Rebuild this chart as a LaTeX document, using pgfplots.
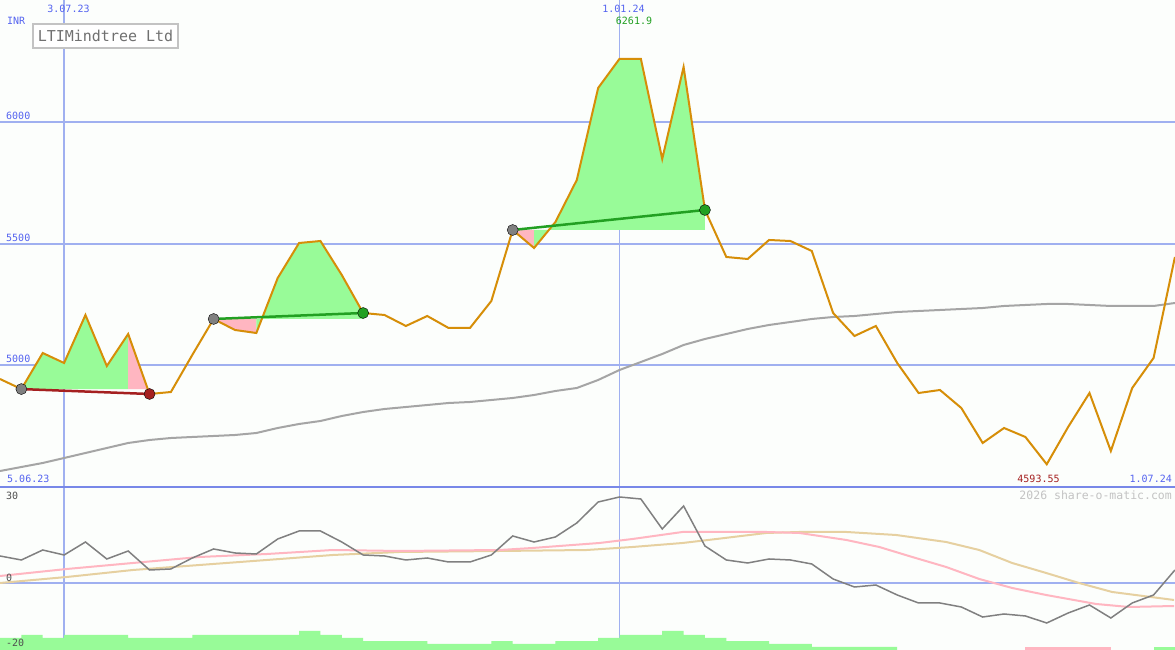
\documentclass[border=0pt]{standalone}
\usepackage{pgfplots}
\pgfplotsset{compat=1.18}
\usepackage{fontspec}
\setmonofont{DejaVu Sans Mono}
\definecolor{bgc}{RGB}{252,254,252}
\definecolor{gridb}{RGB}{160,176,240}
\definecolor{sepb}{RGB}{120,136,232}
\definecolor{txtb}{RGB}{85,100,240}
\definecolor{pricec}{RGB}{214,142,8}
\definecolor{mac}{RGB}{165,165,165}
\definecolor{pgreen}{RGB}{152,251,152}
\definecolor{ppink}{RGB}{255,182,193}
\definecolor{tgreen}{RGB}{34,160,34}
\definecolor{tred}{RGB}{165,32,32}
\definecolor{dotg}{RGB}{128,128,128}
\definecolor{oscc}{RGB}{128,128,128}
\definecolor{tanc}{RGB}{230,208,160}
\definecolor{boxg}{RGB}{195,195,195}
\definecolor{titleg}{RGB}{112,112,112}
\definecolor{lowtxt}{RGB}{80,80,80}
\begin{document}
\begin{tikzpicture}[x=1pt,y=1pt]
\useasboundingbox (0,0) rectangle (1175,650);
\fill[bgc] (0,0) rectangle (1175,650);
% ---------------- main panel ----------------
\begin{axis}[at={(0,163pt)}, anchor=south west, scale only axis,
  width=1175pt, height=487pt,
  xmin=0, xmax=55, ymin=4500, ymax=6504.1,
  axis line style={draw=none}, major tick length=0pt,
  xtick={3}, ytick={5000,5500,6000},
  extra x ticks={29}, extra x tick labels={},
  extra x tick style={grid style={draw=gridb, line width=1pt}},
  xticklabels={}, yticklabels={},
  grid=major, grid style={draw=gridb, line width=2pt},
  clip=true]
% fills
\addplot[fill=pgreen, draw=none] coordinates {(1,4903)(2,5051.4)(3,5010.3)(4,5207.8)(5,4997.9)(6,5129.6)(6,4903)(1,4903)} -- cycle;
\addplot[fill=ppink, draw=none] coordinates {(6,5129.6)(7,4882.7)(7,4903)(6,4903)} -- cycle;
\addplot[fill=ppink, draw=none] coordinates {(10,5191.4)(11,5146.1)(12,5133.7)(12,5191.4)(10,5191.4)} -- cycle;
\addplot[fill=pgreen, draw=none] coordinates {(12,5133.7)(13,5360.1)(14,5504.1)(15,5512.3)(16,5372.4)(17,5216.0)(17,5191.4)(12,5191.4)} -- cycle;
\addplot[fill=ppink, draw=none] coordinates {(24,5557.6)(25,5483.5)(25,5557.6)} -- cycle;
\addplot[fill=pgreen, draw=none] coordinates {(25,5483.5)(26,5590.5)(27,5763.4)(28,6142.0)(29,6261.9)(30,6261.9)(31,5849.8)(32,6228.4)(33,5639.9)(33,5557.6)(25,5557.6)} -- cycle;
% long moving average
\addplot[draw=mac, line width=2pt] coordinates {
(0,4565.8)(1,4582.3)(2,4598.8)(3,4619.3)(4,4639.9)(5,4660.5)(6,4681.1)(7,4693.4)(8,4701.6)(9,4705.8)
(10,4709.9)(11,4714.0)(12,4722.2)(13,4742.8)(14,4759.3)(15,4771.6)(16,4792.2)(17,4808.6)(18,4821.0)(19,4829.2)
(20,4837.4)(21,4845.7)(22,4849.8)(23,4858.0)(24,4866.3)(25,4878.6)(26,4895.1)(27,4907.4)(28,4940.3)(29,4981.5)
(30,5014.4)(31,5047.3)(32,5084.4)(33,5109.1)(34,5129.6)(35,5150.2)(36,5166.7)(37,5179.0)(38,5191.4)(39,5199.6)
(40,5203.7)(41,5211.9)(42,5220.2)(43,5224.3)(44,5228.4)(45,5232.5)(46,5236.6)(47,5244.9)(48,5249.0)(49,5253.1)
(50,5253.1)(51,5249.0)(52,5244.9)(53,5244.9)(54,5244.9)(55,5257.2)};
% price
\addplot[draw=pricec, line width=2pt] coordinates {
(0,4944.4)(1,4903)(2,5051.4)(3,5010.3)(4,5207.8)(5,4997.9)(6,5129.6)(7,4882.7)(8,4890.9)(9,5043.2)
(10,5191.4)(11,5146.1)(12,5133.7)(13,5360.1)(14,5504.1)(15,5512.3)(16,5372.4)(17,5216.0)(18,5207.8)(19,5162.6)
(20,5203.7)(21,5154.3)(22,5154.3)(23,5265.4)(24,5557.6)(25,5483.5)(26,5590.5)(27,5763.4)(28,6142.0)(29,6261.9)
(30,6261.9)(31,5849.8)(32,6228.4)(33,5639.9)(34,5446.5)(35,5438.3)(36,5516.5)(37,5512.3)(38,5471.2)(39,5216.0)
(40,5121.4)(41,5162.6)(42,5010.3)(43,4886.8)(44,4899.2)(45,4825.1)(46,4681.1)(47,4742.8)(48,4705.8)(49,4593.55)
(50,4746.9)(51,4886.8)(52,4648.1)(53,4907.4)(54,5030.9)(55,5446.5)};
% trend lines
\addplot[draw=tred, line width=2.5pt] coordinates {(1,4903)(7,4882.7)};
\addplot[draw=tgreen, line width=2.5pt] coordinates {(10,5191.4)(17,5216.0)};
\addplot[draw=tgreen, line width=2.5pt] coordinates {(24,5557.6)(33,5639.9)};
% dots
\addplot[only marks, mark=*, mark size=5.5pt, mark options={fill=dotg, draw=none}] coordinates {(1,4903)(10,5191.4)(24,5557.6)};
\addplot[only marks, mark=*, mark size=5.5pt, mark options={fill=tred, draw=none}] coordinates {(7,4882.7)};
\addplot[only marks, mark=*, mark size=5.5pt, mark options={fill=tgreen, draw=none}] coordinates {(17,5216.0)(33,5639.9)};
\end{axis}
% ---------------- lower panel ----------------
\begin{axis}[at={(0,0)}, anchor=south west, scale only axis,
  width=1175pt, height=163pt,
  xmin=0, xmax=55, ymin=-20.94, ymax=30,
  axis line style={draw=none}, major tick length=0pt,
  xtick={3}, ytick={0},
  extra x ticks={29}, extra x tick labels={},
  extra x tick style={grid style={draw=gridb, line width=1pt}},
  xticklabels={}, yticklabels={},
  grid=major, grid style={draw=gridb, line width=2pt},
  clip=true]
\addplot[fill=pgreen, draw=none] coordinates {
(0,-21)(0,-17.19)(1,-17.19)(1,-16.25)(2,-16.25)(2,-17.19)(3,-17.19)(3,-16.25)(6,-16.25)(6,-17.19)
(9,-17.19)(9,-16.25)(14,-16.25)(14,-15)(15,-15)(15,-16.25)(16,-16.25)(16,-17.19)(17,-17.19)(17,-18.13)
(20,-18.13)(20,-19.06)(23,-19.06)(23,-18.13)(24,-18.13)(24,-19.06)(26,-19.06)(26,-18.13)(28,-18.13)(28,-17.19)
(29,-17.19)(29,-16.25)(31,-16.25)(31,-15)(32,-15)(32,-16.25)(33,-16.25)(33,-17.19)(34,-17.19)(34,-18.13)
(36,-18.13)(36,-19.06)(38,-19.06)(38,-20)(42,-20)(42,-21)} -- cycle;
\addplot[fill=ppink, draw=none] coordinates {(48,-21)(48,-20)(52,-20)(52,-21)} -- cycle;
\addplot[fill=pgreen, draw=none] coordinates {(54,-21)(54,-20)(55,-20)(55,-21)} -- cycle;
% tan
\addplot[draw=tanc, line width=2pt] coordinates {
(0,0)(3.13,1.88)(6.22,4.06)(9.35,5.63)(12.49,7.19)(15.58,8.75)(18.71,9.69)(23.39,10.0)(27.46,10.31)
(29.61,11.25)(31.95,12.5)(33.54,13.75)(35.87,15.63)(37.42,15.94)(39.62,15.94)(41.95,15.0)(44.29,12.81)
(45.84,10.31)(47.38,6.25)(48.97,3.13)(50.51,0)(52.06,-2.81)(54.96,-5.31)};
% pink
\addplot[draw=ppink, line width=2pt] coordinates {
(0,2.19)(3.13,4.38)(6.22,6.25)(9.35,8.13)(12.49,9.06)(15.58,10.31)(18.71,10.0)(23.39,10.31)(24.93,10.94)
(28.06,12.5)(29.61,13.75)(31.95,15.94)(33.54,15.94)(35.87,15.94)(37.42,15.63)(39.62,13.44)(41.16,11.25)
(42.70,8.13)(44.29,5.0)(45.84,1.25)(47.38,-1.56)(48.97,-3.75)(51.31,-6.56)(52.85,-7.5)(54.96,-7.19)};
% oscillator
\addplot[draw=oscc, line width=1.5pt] coordinates {
(0,8.44)(1,7.19)(2,10.31)(3,8.75)(4,12.81)(5,7.5)(6,10.0)(7,4.06)(8,4.38)(9,7.81)
(10,10.63)(11,9.38)(12,9.06)(13,13.75)(14,16.25)(15,16.25)(16,12.81)(17,8.75)(18,8.44)(19,7.19)
(20,7.81)(21,6.56)(22,6.56)(23,8.75)(24,14.69)(25,12.81)(26,14.38)(27,18.75)(28,25.31)(29,26.88)
(30,26.25)(31,16.88)(32,24.06)(33,11.56)(34,7.19)(35,6.25)(36,7.5)(37,7.19)(38,5.94)(39,1.25)
(40,-1.25)(41,-0.63)(42,-3.75)(43,-6.25)(44,-6.25)(45,-7.5)(46,-10.63)(47,-9.69)(48,-10.31)(49,-12.5)
(50,-9.38)(51,-6.88)(52,-10.94)(53,-6.25)(54,-3.75)(55,4.06)};
\end{axis}
% separator
\draw[sepb, line width=2pt] (0,163) -- (1175,163);
% title box
\draw[boxg, line width=2pt, fill=white] (33,602) rectangle (178,626);
\node[anchor=center, inner sep=0pt, text=titleg, font=\ttfamily\fontsize{15}{17}\selectfont] at (105.5,614) {LTIMindtree Ltd};
% labels
\begin{scope}[every node/.style={inner sep=0pt, font=\ttfamily\fontsize{10}{12}\selectfont}]
\node[anchor=base west, text=txtb] at (7,625) {INR};
\node[anchor=base, text=txtb] at (68.5,637) {3.07.23};
\node[anchor=base, text=txtb] at (623.5,637) {1.01.24};
\node[anchor=base, text=tgreen] at (634,625) {6261.9};
\node[anchor=base west, text=txtb] at (6,530) {6000};
\node[anchor=base west, text=txtb] at (6,408.5) {5500};
\node[anchor=base west, text=txtb] at (6,287) {5000};
\node[anchor=base west, text=txtb] at (7,167) {5.06.23};
\node[anchor=base, text=tred] at (1038.5,167) {4593.55};
\node[anchor=base east, text=txtb] at (1172,167) {1.07.24};
\node[anchor=base west, text=lowtxt] at (6,150) {30};
\node[anchor=base west, text=lowtxt] at (6,68) {0};
\node[anchor=base west, text=lowtxt] at (6,3) {-20};
\node[anchor=base east, text=boxg, font=\ttfamily\fontsize{11.5}{13}\selectfont] at (1172,150) {2026 share-o-matic.com};
\end{scope}
\end{tikzpicture}
\end{document}
